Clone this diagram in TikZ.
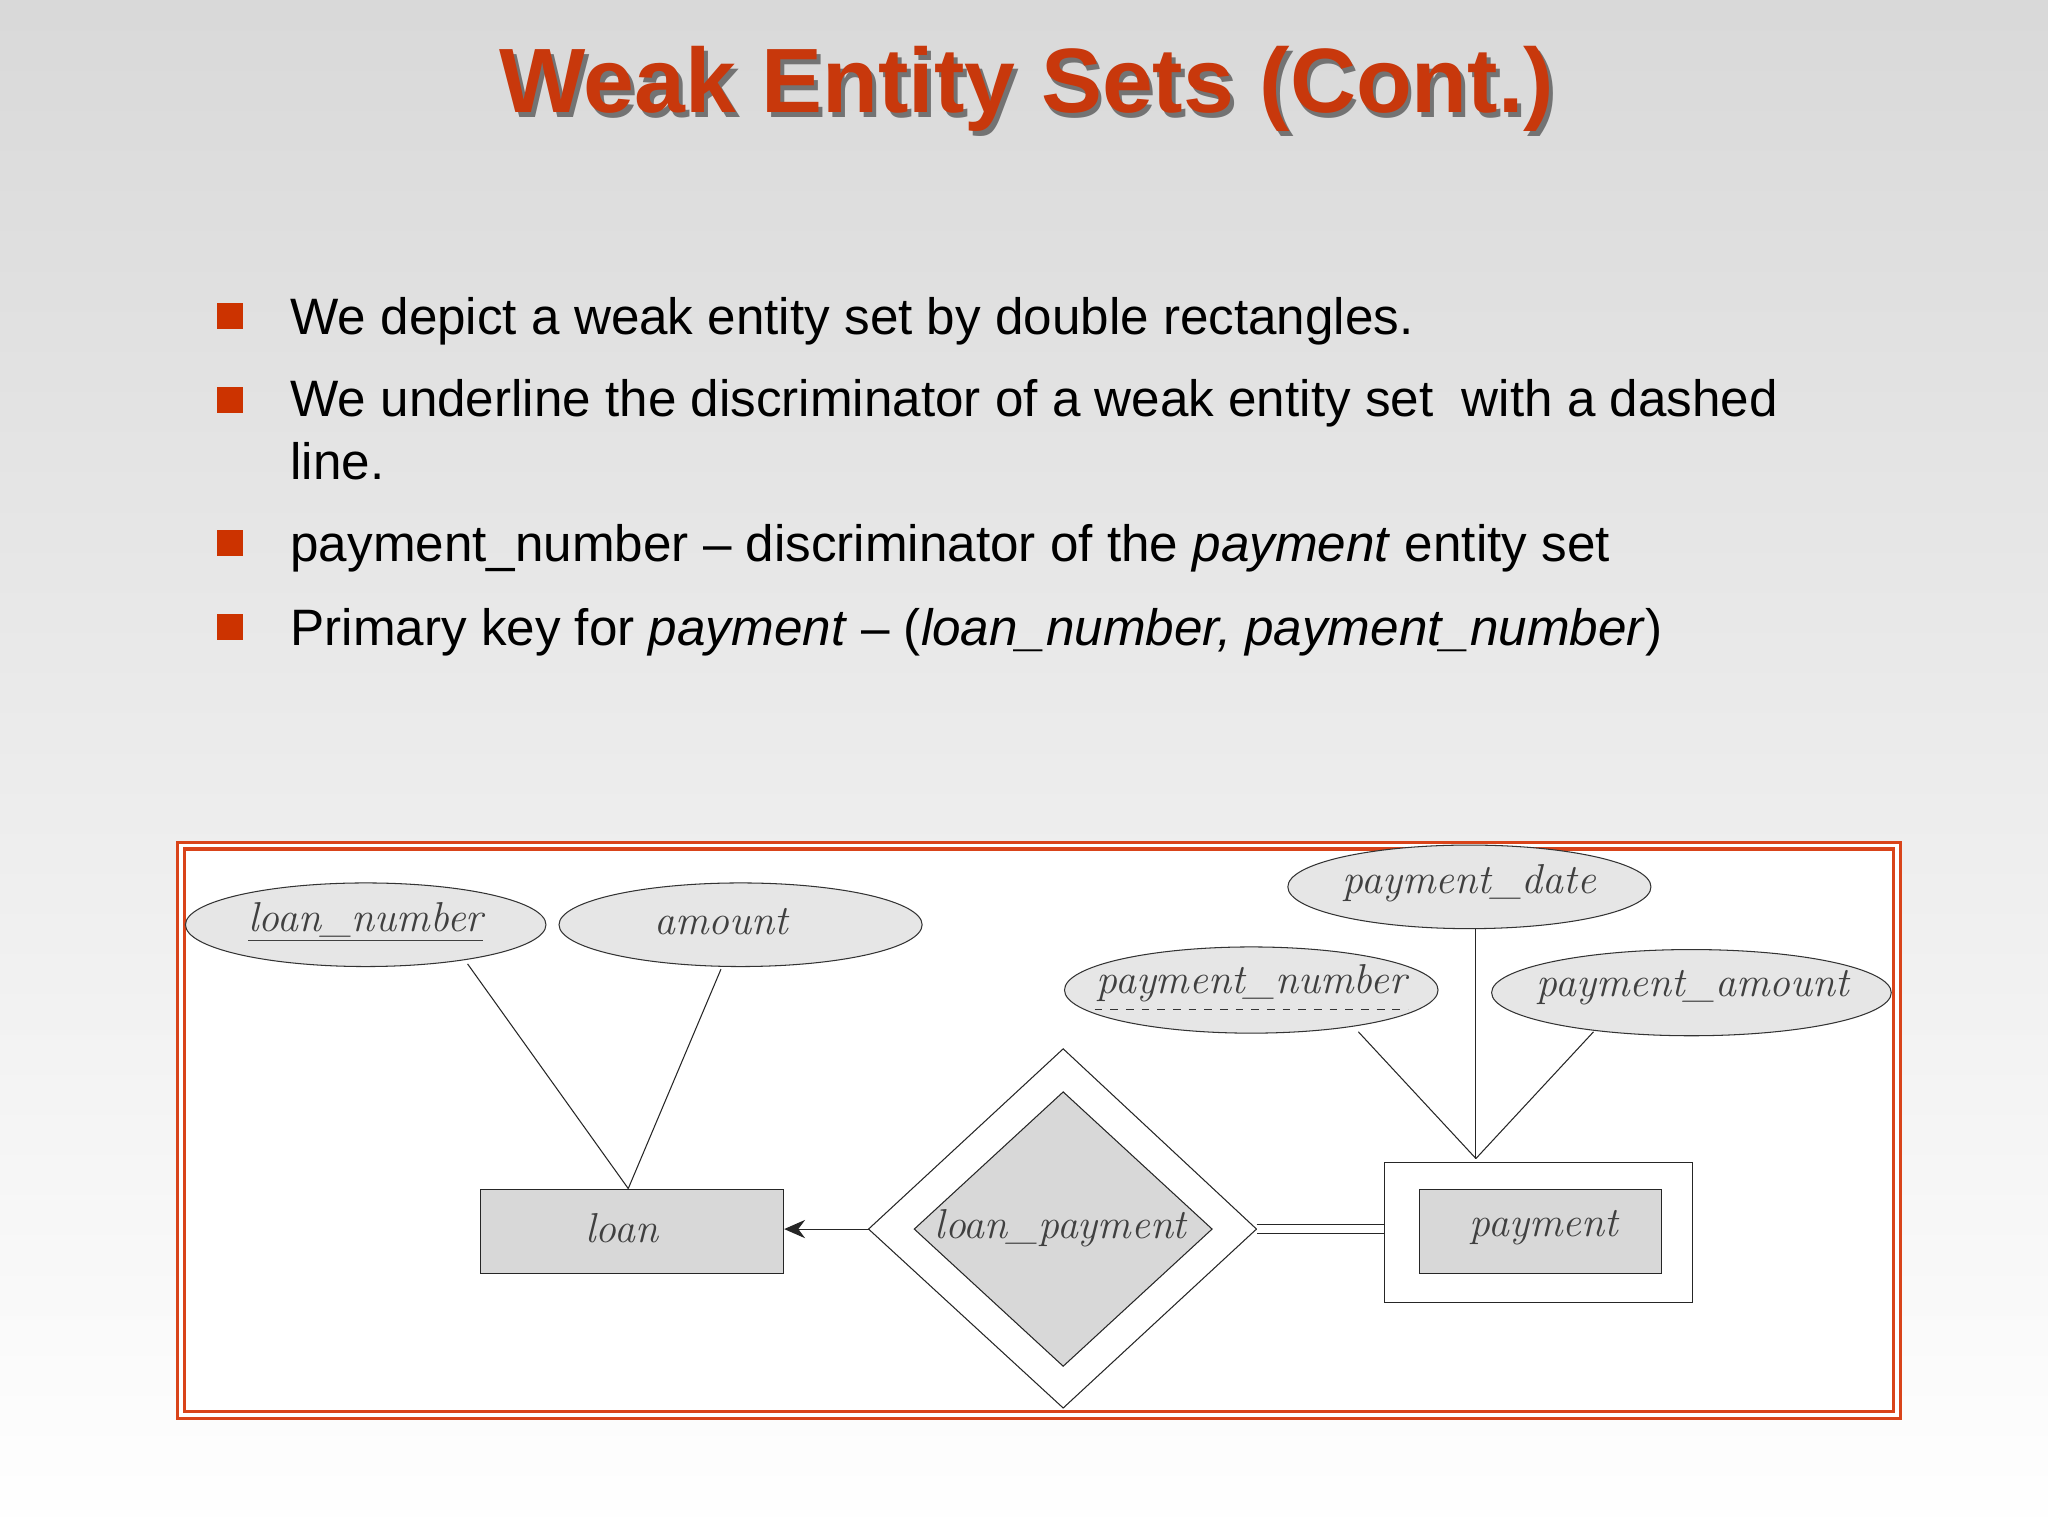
\documentclass[tikz,border=0pt]{standalone}
\usepackage{fontspec}
\setmainfont{Liberation Sans}
\usetikzlibrary{arrows.meta}
\definecolor{ttl}{HTML}{C8380C}
\definecolor{bul}{HTML}{CC3300}
\definecolor{frm}{HTML}{D9441A}
\definecolor{efill}{HTML}{E6E6E6}
\definecolor{rfill}{HTML}{D8D8D8}
\newfontfamily\erfont{Latin Modern Roman}
\tikzset{
  attr/.style={draw=black!80,fill=efill,thin},
  etxt/.style={font=\erfont\itshape\fontsize{16}{18}\selectfont,text=black!75},
  bullettxt/.style={anchor=base west,inner sep=0pt,font=\fontsize{19.6}{23}\selectfont,text=black},
  bsq/.style={fill=bul,minimum size=10pt,inner sep=0pt},
  link/.style={draw=black!85,thin}
}
\begin{document}
\begin{tikzpicture}[x=0.5pt,y=-0.5pt]
\useasboundingbox (0,0) rectangle (1568,1176);
\shade[top color=black!15,bottom color=white] (0,0) rectangle (1568,1176);
% title
\node[font=\bfseries\fontsize{35}{40}\selectfont,text=black!55] (tsh) at (789,72) {Weak Entity Sets (Cont.)};
\node[font=\bfseries\fontsize{35}{40}\selectfont,text=ttl] (title) at (786,68) {Weak Entity Sets (Cont.)};
% bullets
\node[bsq] (b1) at (176,242) {};
\node[bullettxt] (t1) at (222,256) {We depict a weak entity set by double rectangles.};
\node[bsq] (b2) at (176,306) {};
\node[bullettxt] (t2) at (222,319) {We underline the discriminator of a weak entity set\ \ with a dashed};
\node[bullettxt] (t2b) at (222,367) {line.};
\node[bsq] (b3) at (176,416) {};
\node[bullettxt] (t3) at (222,430) {payment\_number – discriminator of the \textit{payment} entity set};
\node[bsq] (b4) at (176,480) {};
\node[bullettxt] (t4) at (222,494) {Primary key for \textit{payment} – (\textit{loan\_number, payment\_number})};
% frame
\draw[frm,fill=white,line width=1.2pt] (136,645) rectangle (1455,1086);
\draw[frm,line width=1.2pt] (141,650) rectangle (1450,1081);
% attributes
\draw[attr] (280,708) ellipse [x radius=138,y radius=32];
\node[etxt] (ln) at (280,706) {\underline{loan\_number}};
\draw[attr] (567,708) ellipse [x radius=139,y radius=32];
\node[etxt] (am) at (552,706) {amount};
\draw[attr] (1125,679) ellipse [x radius=139,y radius=32];
\node[etxt] (pd) at (1125,676) {payment\_date};
\draw[attr] (958,758) ellipse [x radius=143,y radius=33];
\node[etxt] (pn) at (958,753) {payment\_number};
\draw[black!80,dashed,thin] (838,773) -- (1078,773);
\draw[attr] (1295,760) ellipse [x radius=153,y radius=33];
\node[etxt] (pa) at (1296,756) {payment\_amount};
% coordinates
\coordinate (lnb) at (358,738);
\coordinate (amb) at (552,742);
\coordinate (pdb) at (1130,711);
\coordinate (pnb) at (1040,790);
\coordinate (pab) at (1220,790);
\coordinate (loantop) at (481,910);
\coordinate (paytop) at (1130,887);
% loan
\node[draw=black!85,fill=rfill,minimum width=116pt,minimum height=32pt,inner sep=0pt] (loan) at (484,943) {};
\node[etxt] at (476,940) {loan};
% diamond
\draw[black!85,fill=white] (814,803) -- (962,941) -- (814,1078) -- (665,941) -- cycle;
\draw[black!85,fill=rfill] (814,836) -- (928,941) -- (814,1046) -- (700,941) -- cycle;
\coordinate (dl) at (665,941);
\coordinate (dr) at (962,941);
\node[etxt] (lp) at (812,940) {loan\_payment};
% payment
\node[draw=black!85,minimum width=118pt,minimum height=53.5pt,inner sep=0pt] (payo) at (1178,943.5) {};
\node[draw=black!85,fill=rfill,minimum width=92.5pt,minimum height=32pt,inner sep=0pt] (payi) at (1179.5,943) {};
\node[etxt] at (1182,940) {payment};
% links
\draw[link] (lnb) -- (loantop);
\draw[link] (amb) -- (loantop);
\draw[link] (pdb) -- (paytop);
\draw[link] (pnb) -- (paytop);
\draw[link] (pab) -- (paytop);
\draw[link,-{Stealth[length=8pt,width=7pt]}] (dl) -- (dl -| loan.east);
\draw[black!85,double,double distance=3pt,thin] (dr) -- (dr -| payo.west);
\end{tikzpicture}
\end{document}
